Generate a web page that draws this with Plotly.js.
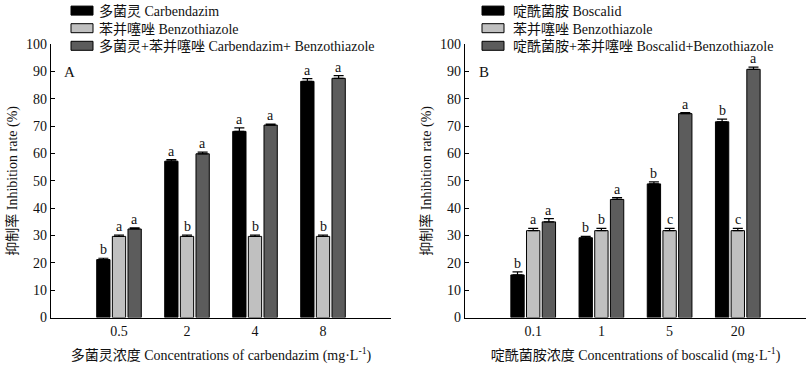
<!DOCTYPE html>
<html>
<head>
<meta charset="utf-8">
<script src="https://cdn.plot.ly/plotly-3.0.1.min.js"></script>
<style>html,body{margin:0;padding:0;background:#fff;}#chart{width:807px;height:368px;}</style>
</head>
<body>
<div id="chart"></div>
<script>
// ---- Data (panel A) ----
var catsA = ['0.5', '2', '4', '8'];
var carbendazim = [21.2, 57.2, 68.1, 86.4];
var carbendazimErr = [0.5, 0.6, 1.3, 1.0];
var benzoA = [29.7, 29.7, 29.7, 29.7];
var benzoAErr = [0.5, 0.5, 0.5, 0.5];
var comboA = [32.4, 59.9, 70.4, 87.5];
var comboAErr = [0.4, 0.6, 0.4, 1.0];
var lettersCarb = ['b', 'a', 'a', 'a'];
var lettersBenzoA = ['a', 'b', 'b', 'b'];
var lettersComboA = ['a', 'a', 'a', 'a'];

// ---- Data (panel B) ----
var catsB = ['0.1', '1', '5', '20'];
var boscalid = [15.6, 29.2, 48.9, 71.6];
var boscalidErr = [1.1, 0.5, 0.7, 1.0];
var benzoB = [31.8, 31.8, 31.8, 31.8];
var benzoBErr = [0.8, 0.8, 0.8, 0.8];
var comboB = [35.0, 43.2, 74.6, 90.8];
var comboBErr = [1.2, 0.7, 0.4, 0.8];
var lettersBosc = ['b', 'b', 'b', 'b'];
var lettersBenzoB = ['a', 'b', 'c', 'c'];
var lettersComboB = ['a', 'a', 'a', 'a'];

var FONT = 'Liberation Serif, Times New Roman, Noto Sans CJK SC, serif';
var TXT = '#111';
var FS = 14;

function bar(x, y, err, name, color, xa, ya, leg) {
  return {
    type: 'bar', x: x, y: y, name: name, xaxis: xa, yaxis: ya, legend: leg,
    marker: {color: color, line: {color: '#000', width: 1}},
    error_y: {type: 'data', array: err, symmetric: false,
              arrayminus: err.map(function(){return 0;}),
              color: '#000', thickness: 1.2, width: 5},
    hoverinfo: 'skip'
  };
}

var traces = [
  bar(catsA, carbendazim, carbendazimErr, '多菌灵 Carbendazim', '#000000', 'x', 'y', 'legend'),
  bar(catsA, benzoA, benzoAErr, '苯并噻唑 Benzothiazole', '#c0c0c0', 'x', 'y', 'legend'),
  bar(catsA, comboA, comboAErr, '多菌灵+苯并噻唑 Carbendazim+ Benzothiazole', '#5c5c5c', 'x', 'y', 'legend'),
  bar(catsB, boscalid, boscalidErr, '啶酰菌胺 Boscalid', '#000000', 'x2', 'y2', 'legend2'),
  bar(catsB, benzoB, benzoBErr, '苯并噻唑 Benzothiazole', '#c0c0c0', 'x2', 'y2', 'legend2'),
  bar(catsB, comboB, comboBErr, '啶酰菌胺+苯并噻唑 Boscalid+Benzothiazole', '#5c5c5c', 'x2', 'y2', 'legend2')
];

// letter annotations placed over each bar via category index + group offset
var SLOT = 0.231;
var annotations = [];
function addLetters(vals, errs, letters, offset, xr, yr) {
  for (var i = 0; i < vals.length; i++) {
    annotations.push({
      x: i + offset, y: vals[i] + errs[i], xref: xr, yref: yr,
      text: letters[i], showarrow: false, yanchor: 'bottom', yshift: -1,
      font: {family: FONT, size: FS, color: TXT}
    });
  }
}
addLetters(carbendazim, carbendazimErr, lettersCarb, -SLOT, 'x', 'y');
addLetters(benzoA, benzoAErr, lettersBenzoA, 0, 'x', 'y');
addLetters(comboA, comboAErr, lettersComboA, SLOT, 'x', 'y');
addLetters(boscalid, boscalidErr, lettersBosc, -SLOT, 'x2', 'y2');
addLetters(benzoB, benzoBErr, lettersBenzoB, 0, 'x2', 'y2');
addLetters(comboB, comboBErr, lettersComboB, SLOT, 'x2', 'y2');

annotations.push({xref: 'x domain', yref: 'y', x: 0.055, y: 90, text: 'A', showarrow: false,
  xanchor: 'center', font: {family: FONT, size: 15, color: TXT}});
annotations.push({xref: 'x2 domain', yref: 'y2', x: 0.055, y: 90, text: 'B', showarrow: false,
  xanchor: 'center', font: {family: FONT, size: 15, color: TXT}});

function xax(domain, title) {
  return {
    domain: domain, type: 'category', range: [-1, 4],
    showline: true, linecolor: '#000', linewidth: 1.2,
    ticks: '', showgrid: false, zeroline: false,
    tickfont: {family: FONT, size: FS, color: TXT},
    title: {text: title, font: {family: FONT, size: FS, color: TXT}, standoff: 12},
    fixedrange: true
  };
}
function yax(anchor) {
  return {
    domain: [0.137, 0.88], range: [0, 100], anchor: anchor,
    tickvals: [0,10,20,30,40,50,60,70,80,90,100],
    showline: true, linecolor: '#000', linewidth: 1.2,
    ticks: 'inside', ticklen: 4, tickcolor: '#000', tickwidth: 1.2,
    showgrid: false, zeroline: false,
    tickfont: {family: FONT, size: FS, color: TXT},
    title: {text: '抑制率 Inhibition rate (%)', font: {family: FONT, size: FS, color: TXT}, standoff: 5},
    fixedrange: true
  };
}

var layout = {
  width: 807, height: 368,
  margin: {l: 0, r: 0, t: 0, b: 0},
  paper_bgcolor: '#fff', plot_bgcolor: '#fff',
  barmode: 'group', bargap: 0.31, bargroupgap: 0.15,
  font: {family: FONT, size: FS, color: TXT},
  xaxis: xax([51/807, 391/807], '多菌灵浓度 Concentrations of carbendazim (mg·L<sup>-1</sup>)'),
  yaxis: yax('x'),
  xaxis2: xax([465/807, 806/807], '啶酰菌胺浓度 Concentrations of boscalid (mg·L<sup>-1</sup>)'),
  yaxis2: yax('x2'),
  legend: {x: 62/807, y: 1.0, xanchor: 'left', yanchor: 'top', bgcolor: 'rgba(0,0,0,0)',
    font: {family: FONT, size: FS, color: TXT}, tracegroupgap: 0, itemclick: false, itemdoubleclick: false},
  legend2: {x: 473/807, y: 1.0, xanchor: 'left', yanchor: 'top', bgcolor: 'rgba(0,0,0,0)',
    font: {family: FONT, size: FS, color: TXT}, tracegroupgap: 0, itemclick: false, itemdoubleclick: false},
  showlegend: true,
  annotations: annotations
};
layout.xaxis.anchor = 'y';
layout.xaxis2.anchor = 'y2';

Plotly.newPlot('chart', traces, layout, {staticPlot: true, displayModeBar: false}).then(function(){
  // widen legend swatches to match the reference's rectangular keys
  document.querySelectorAll('.legendpoints path').forEach(function(p){
    p.setAttribute('d', 'M11,4.5H-11V-4.5H11Z');
  });
  // tighten legend rows (reference spacing ~17.5px, first row near the top edge)
  document.querySelectorAll('g.legend, g.legend2, g[class^="legend"]').forEach(function(lg){
    var items = lg.querySelectorAll('g.traces');
    if (!items.length) return;
    var m0 = /translate\(\s*([-\d.]+)[ ,]+([-\d.]+)/.exec(items[0].getAttribute('transform') || '');
    if (!m0) return;
    var x0 = parseFloat(m0[1]), y0 = parseFloat(m0[2]) - 5;
    items.forEach(function(it, i){
      it.setAttribute('transform', 'translate(' + x0 + ',' + (y0 + i * 17.6) + ')');
    });
  });
  document.querySelectorAll('.legendtext').forEach(function(t){
    t.setAttribute('x', '37');
  });
});
</script>
</body>
</html>
